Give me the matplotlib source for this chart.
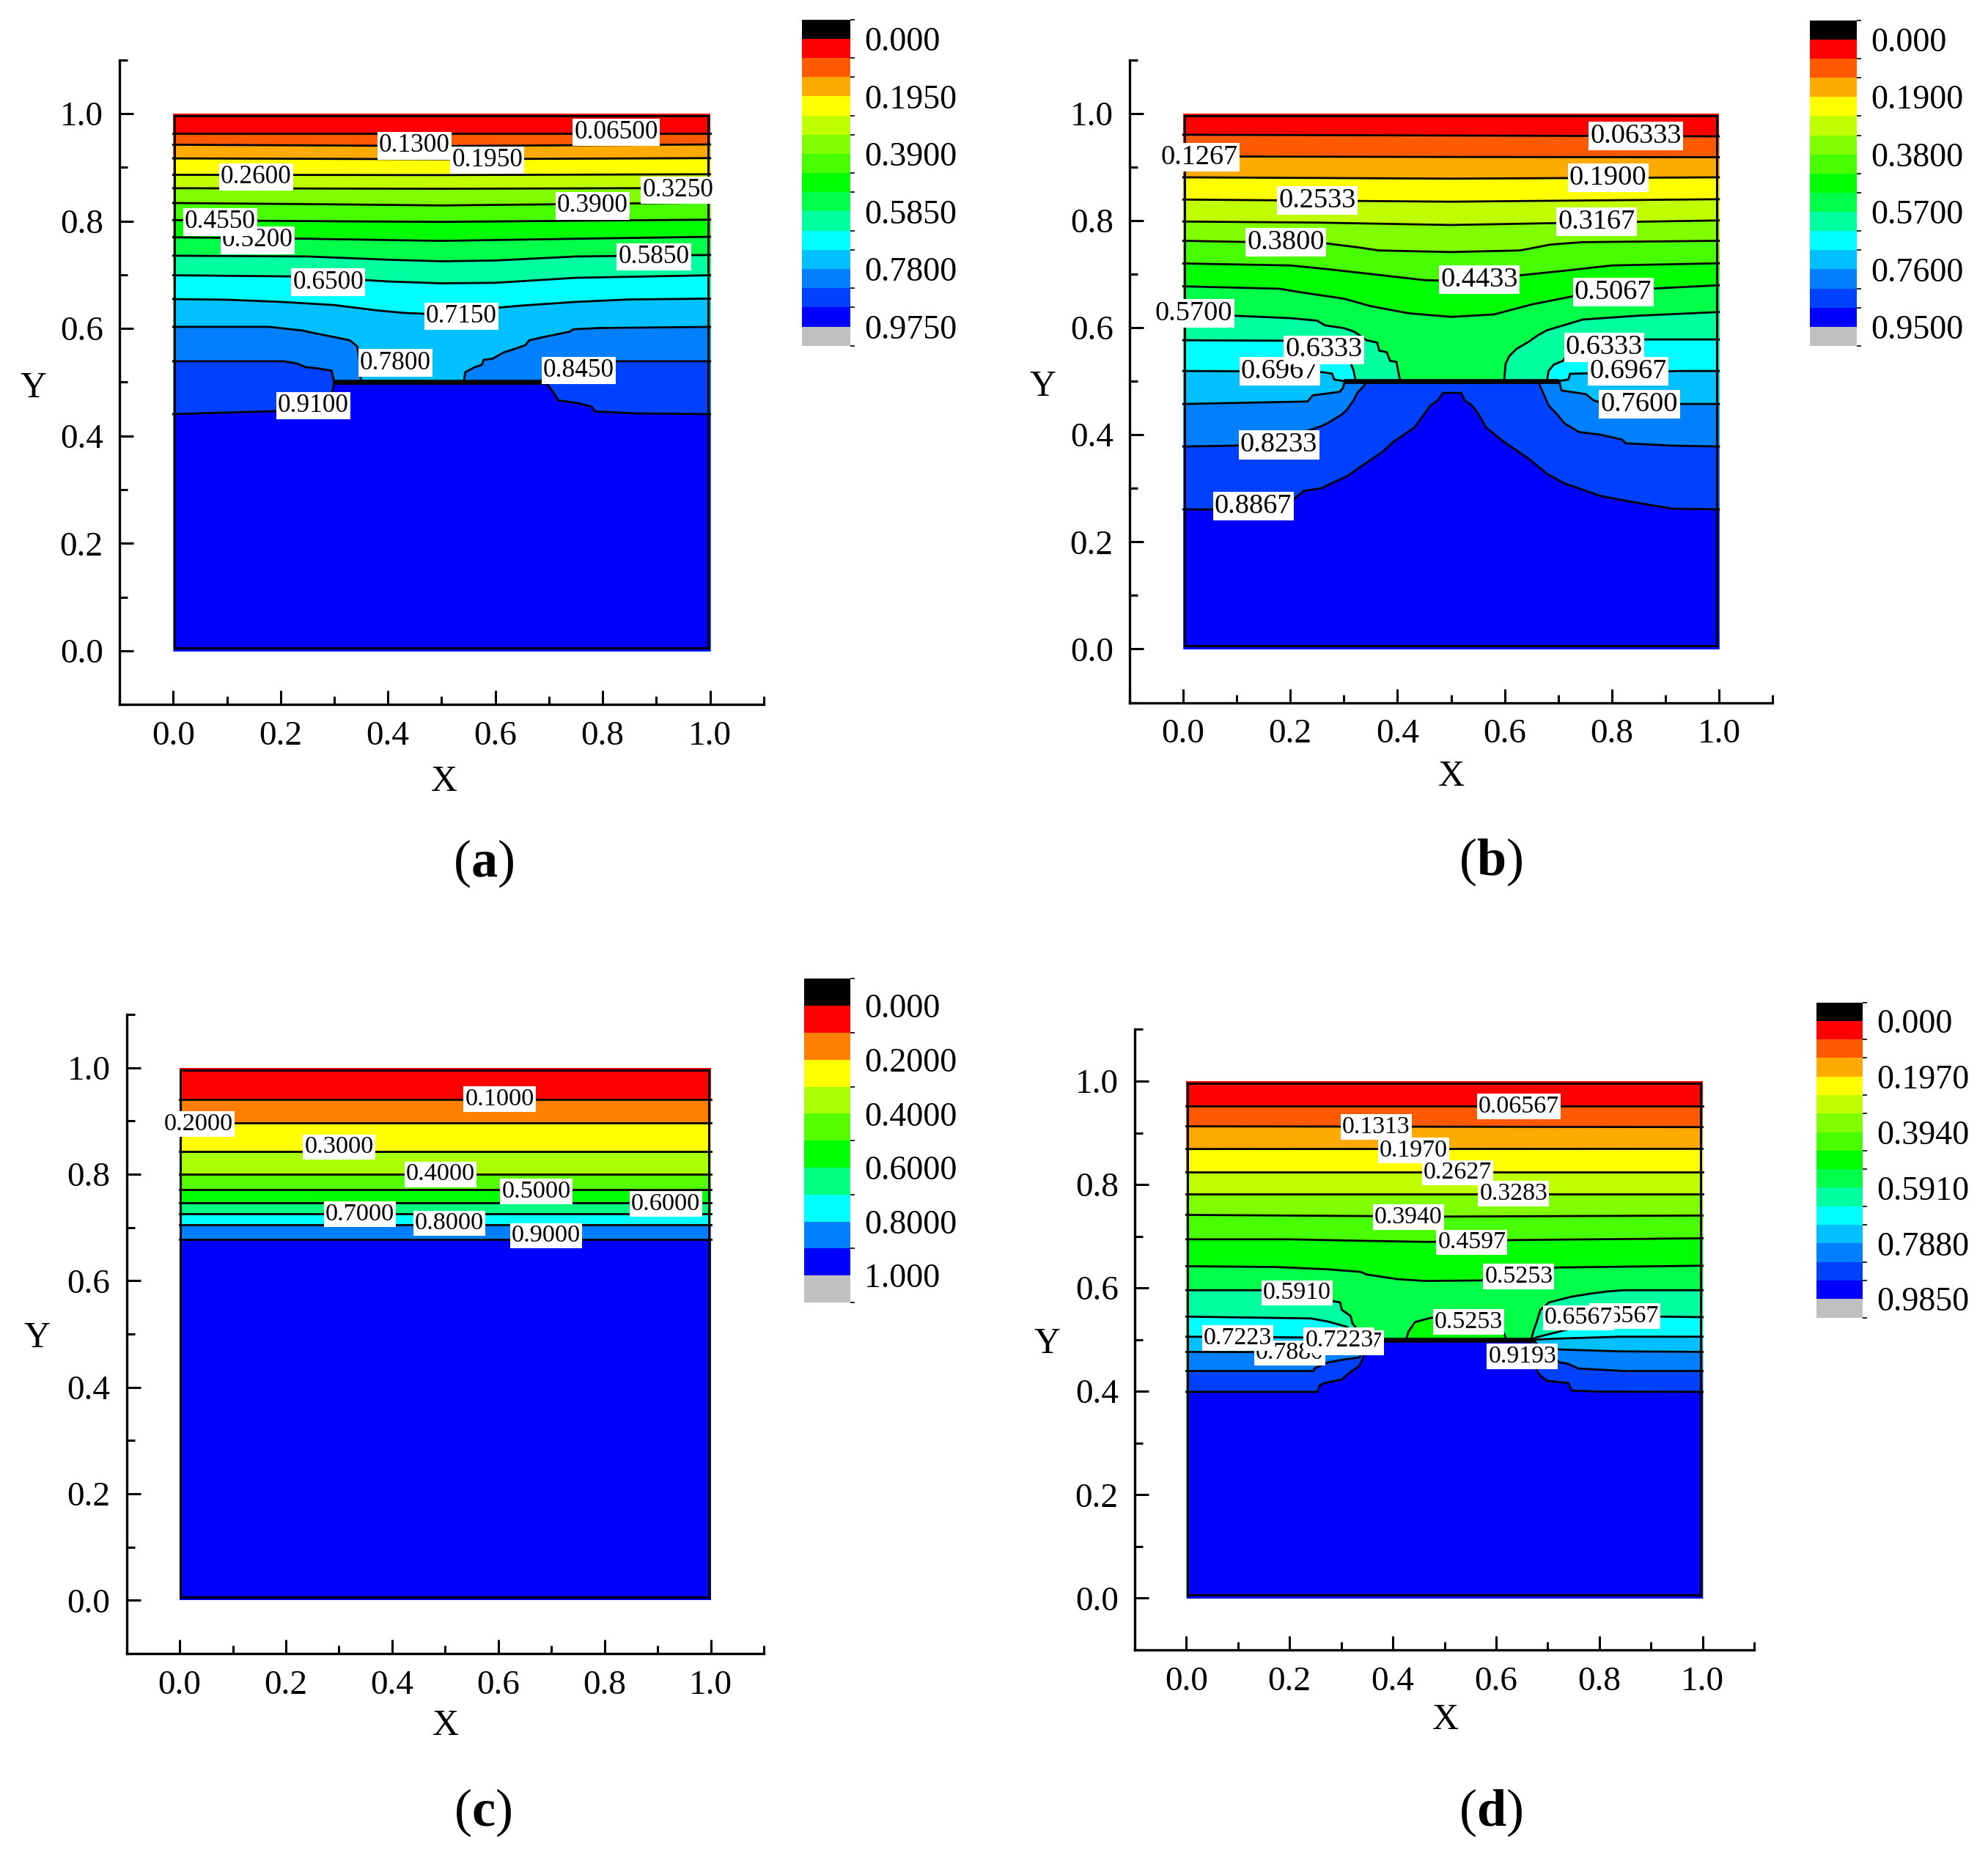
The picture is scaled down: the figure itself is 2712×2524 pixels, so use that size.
import numpy as np
import matplotlib.pyplot as plt
from matplotlib.colors import ListedColormap, BoundaryNorm
from matplotlib.cm import ScalarMappable
from matplotlib.patches import Rectangle
from matplotlib.ticker import MultipleLocator, FormatStrFormatter

plt.rcParams['font.family'] = ['Liberation Serif', 'DejaVu Serif']
plt.rcParams['mathtext.fontset'] = 'custom'
plt.rcParams['mathtext.rm'] = 'Liberation Serif'
plt.rcParams['mathtext.bf'] = 'Liberation Serif:bold'

# ---------------- colours ----------------
bands15 = ['#ff0000', '#ff5a00', '#ffaa00', '#ffff00', '#c0ff00', '#80ff00',
           '#48ff00', '#00ff00', '#00ff48', '#00ffa0', '#00ffff', '#00c0ff',
           '#0080ff', '#0040ff', '#0000ff']
bands10 = ['#ff0000', '#ff8000', '#ffff00', '#aaff00', '#55ff00', '#00ff00',
           '#00ff80', '#00ffff', '#0080ff', '#0000ff']

# ---------------- panel (a) ----------------
a_levels = [0.000, 0.065, 0.130, 0.195, 0.260, 0.325, 0.390, 0.455, 0.520,
            0.585, 0.650, 0.715, 0.780, 0.845, 0.910, 0.975]
a_cbar_labels = ['0.000', '0.1950', '0.3900', '0.5850', '0.7800', '0.9750']
a_plate = [0.30, 0.70]
a_lines = [
    [(0, 0.9635), (1, 0.9635)],
    [(0, 0.942), (0.5, 0.9395), (1, 0.9425)],
    [(0, 0.9165), (0.5, 0.915), (1, 0.917)],
    [(0, 0.886), (0.5, 0.8855), (1, 0.887)],
    [(0, 0.861), (0.5, 0.86), (1, 0.8615)],
    [(0, 0.8335), (0.3, 0.831), (0.5, 0.829), (0.7, 0.831), (1, 0.8344)],
    [(0, 0.8016), (0.3, 0.7995), (0.5, 0.7984), (0.7, 0.8), (1, 0.8025)],
    [(0, 0.7697), (0.25, 0.767), (0.5, 0.763), (0.75, 0.767), (1, 0.7706)],
    [(0, 0.7354), (0.25, 0.734), (0.4, 0.728), (0.5, 0.725), (0.6, 0.7265),
     (0.75, 0.734), (1, 0.7368)],
    [(0, 0.699), (0.25, 0.6966), (0.4, 0.6875), (0.5, 0.684), (0.6, 0.685),
     (0.75, 0.6943), (1, 0.699)],
    [(0, 0.6547), (0.1, 0.6535), (0.2, 0.6495), (0.3, 0.6436), (0.38, 0.6336),
     (0.43, 0.629), (0.5, 0.626), (0.57, 0.6357), (0.65, 0.6427),
     (0.75, 0.6495), (0.85, 0.654), (1, 0.6556)],
    [(0, 0.603), (0.179, 0.603), (0.2405, 0.5962), (0.261, 0.5917),
     (0.295, 0.585), (0.329, 0.578), (0.343, 0.5666), (0.347, 0.54),
     (0.35, 0.5), (0.541, 0.5), (0.544, 0.5186), (0.5613, 0.5278),
     (0.575, 0.5324), (0.578, 0.5415), (0.595, 0.5438), (0.615, 0.5552),
     (0.636, 0.562), (0.656, 0.5689), (0.663, 0.578), (0.683, 0.5826),
     (0.738, 0.594), (0.745, 0.5985), (0.792, 0.6008), (1, 0.603)],
    [(0, 0.539), (0.206, 0.539), (0.23, 0.535), (0.247, 0.528), (0.268, 0.526),
     (0.295, 0.5215), (0.3, 0.5), (0.686, 0.5), (0.69, 0.515), (0.705, 0.52),
     (0.75, 0.528), (0.79, 0.537), (0.824, 0.539), (1, 0.539)],
    [(0, 0.4406), (0.186, 0.446), (0.25, 0.45), (0.285, 0.46), (0.296, 0.48),
     (0.3, 0.5), (0.697, 0.5), (0.6986, 0.4933), (0.7075, 0.482),
     (0.7177, 0.466), (0.752, 0.4615), (0.779, 0.4547), (0.786, 0.4456),
     (0.86, 0.442), (1, 0.4406)],
]
a_label_text = ['0.06500', '0.5200', '0.4550', '0.1950', '0.1300', '0.2600',
                '0.3250', '0.3900', '0.5850', '0.6500', '0.7150', '0.7800',
                '0.8450', '0.9100']
a_label_xy = [(0.825, 0.965), (0.157, 0.764), (0.0875, 0.798), (0.585, 0.913),
              (0.449, 0.94), (0.154, 0.882), (0.94, 0.857), (0.781, 0.828),
              (0.895, 0.733), (0.289, 0.686), (0.5365, 0.623), (0.414, 0.536),
              (0.755, 0.522), (0.2606, 0.4565)]

# ---------------- panel (b) ----------------
b_levels = [0.000, 0.06333, 0.1267, 0.1900, 0.2533, 0.3167, 0.3800, 0.4433,
            0.5067, 0.5700, 0.6333, 0.6967, 0.7600, 0.8233, 0.8867, 0.9500]
b_cbar_labels = ['0.000', '0.1900', '0.3800', '0.5700', '0.7600', '0.9500']
b_plate = [0.30, 0.70]
b_lines = [
    [(0, 0.96), (1, 0.957)],
    [(0, 0.9195), (0.5, 0.9185), (1, 0.918)],
    [(0, 0.8805), (0.5, 0.878), (1, 0.8805)],
    [(0, 0.839), (0.5, 0.835), (1, 0.8396)],
    [(0, 0.798), (0.25, 0.796), (0.5, 0.7915), (0.75, 0.796), (1, 0.8)],
    [(0, 0.762), (0.268, 0.757), (0.325, 0.75), (0.365, 0.744), (0.5, 0.741),
     (0.629, 0.744), (0.686, 0.755), (0.746, 0.7595), (1, 0.762)],
    [(0, 0.7197), (0.2, 0.716), (0.27, 0.709), (0.35, 0.7), (0.45, 0.6886),
     (0.55, 0.686), (0.63, 0.6977), (0.72, 0.707), (0.8, 0.716), (1, 0.72)],
    [(0, 0.677), (0.18, 0.6725), (0.22, 0.6657), (0.3, 0.654), (0.35, 0.64),
     (0.42, 0.6268), (0.5, 0.62), (0.58, 0.6245), (0.65, 0.643),
     (0.73, 0.659), (0.8, 0.669), (1, 0.679)],
    [(0, 0.622), (0.098, 0.622), (0.2, 0.6176), (0.25, 0.613), (0.265, 0.604),
     (0.3, 0.599), (0.32, 0.592), (0.342, 0.5765), (0.362, 0.572),
     (0.366, 0.557), (0.38, 0.554), (0.386, 0.538), (0.398, 0.536),
     (0.405, 0.5), (0.599, 0.5), (0.602, 0.533), (0.609, 0.547),
     (0.622, 0.56), (0.6455, 0.574), (0.662, 0.5855), (0.679, 0.595),
     (0.746, 0.615), (0.846, 0.622), (1, 0.629)],
    [(0, 0.5764), (0.185, 0.5755), (0.28, 0.572), (0.3, 0.56), (0.31, 0.54),
     (0.318, 0.52), (0.322, 0.5), (0.679, 0.5), (0.682, 0.519),
     (0.692, 0.531), (0.709, 0.538), (0.72, 0.556), (0.75, 0.574),
     (0.865, 0.5778), (1, 0.5778)],
    [(0, 0.519), (0.18, 0.518), (0.258, 0.517), (0.278, 0.514), (0.282, 0.503),
     (0.3, 0.5), (0.7, 0.5), (0.719, 0.503), (0.722, 0.5137), (0.756, 0.5146),
     (0.93, 0.519), (1, 0.519)],
    [(0, 0.4574), (0.232, 0.462), (0.242, 0.4735), (0.292, 0.48),
     (0.298, 0.487), (0.302, 0.5), (0.702, 0.5), (0.706, 0.4826),
     (0.752, 0.4757), (0.766, 0.464), (0.78, 0.46), (0.929, 0.4574),
     (1, 0.4574)],
    [(0, 0.378), (0.098, 0.3796), (0.18, 0.39), (0.258, 0.416), (0.272, 0.423),
     (0.295, 0.437), (0.305, 0.446), (0.318, 0.464), (0.325, 0.478),
     (0.338, 0.492), (0.342, 0.5), (0.662, 0.5), (0.672, 0.478),
     (0.682, 0.455), (0.699, 0.437), (0.712, 0.421), (0.739, 0.405),
     (0.779, 0.4), (0.819, 0.391), (0.826, 0.384), (0.9125, 0.3796),
     (1, 0.378)],
    [(0, 0.2606), (0.051, 0.2606), (0.208, 0.281), (0.225, 0.295), (0.258, 0.3),
     (0.285, 0.313), (0.305, 0.322), (0.325, 0.336), (0.352, 0.3545),
     (0.372, 0.368), (0.392, 0.3865), (0.412, 0.4), (0.432, 0.414),
     (0.445, 0.432), (0.462, 0.455), (0.475, 0.464), (0.485, 0.478),
     (0.519, 0.478), (0.525, 0.464), (0.539, 0.455), (0.552, 0.437),
     (0.565, 0.414), (0.582, 0.4), (0.599, 0.3865), (0.619, 0.373),
     (0.646, 0.3545), (0.679, 0.327), (0.712, 0.309), (0.779, 0.2857),
     (0.826, 0.2767), (0.879, 0.2675), (0.9125, 0.262), (1, 0.2606)],
]
b_label_text = ['0.06333', '0.1267', '0.1900', '0.2533', '0.3167', '0.3800',
                '0.4433', '0.5067', '0.5700', '0.6967', '0.6333', '0.6333',
                '0.6967', '0.7600', '0.8233', '0.8867']
b_label_xy = [(0.845, 0.958), (0.030, 0.918), (0.793, 0.880), (0.25, 0.837),
              (0.772, 0.797), (0.1916, 0.759), (0.5526, 0.6896),
              (0.8026, 0.6663), (0.0199, 0.626), (0.18, 0.5185),
              (0.263, 0.5586), (0.786, 0.563), (0.8306, 0.5185),
              (0.8516, 0.457), (0.1787, 0.381), (0.1308, 0.267)]

# ---------------- panel (c) ----------------
c_levels = [0.000, 0.1, 0.2, 0.3, 0.4, 0.5, 0.6, 0.7, 0.8, 0.9, 1.000]
c_cbar_labels = ['0.000', '0.2000', '0.4000', '0.6000', '0.8000', '1.000']
c_line_y = [0.941, 0.897, 0.843, 0.7997, 0.7708, 0.7469, 0.7263, 0.7047, 0.678]
c_lines = [[(0, y), (1, y)] for y in c_line_y]
c_label_text = ['0.1000', '0.2000', '0.3000', '0.4000', '0.5000', '0.6000',
                '0.7000', '0.8000', '0.9000']
c_label_xy = [(0.6025, 0.941), (0.0355, 0.8946), (0.3003, 0.851),
              (0.4916, 0.7997), (0.6715, 0.7675), (0.9155, 0.7446),
              (0.3399, 0.7249), (0.5077, 0.708), (0.6898, 0.6846)]

# ---------------- panel (d) ----------------
d_levels = [0.000, 0.06567, 0.1313, 0.1970, 0.2627, 0.3283, 0.3940, 0.4597,
            0.5253, 0.5910, 0.6567, 0.7223, 0.7880, 0.8537, 0.9193, 0.9850]
d_cbar_labels = ['0.000', '0.1970', '0.3940', '0.5910', '0.7880', '0.9850']
d_plate = [0.342, 0.672]
d_lines = [
    [(0, 0.952), (1, 0.952)],
    [(0, 0.9125), (1, 0.911)],
    [(0, 0.8686), (1, 0.869)],
    [(0, 0.824), (1, 0.824)],
    [(0, 0.781), (1, 0.781)],
    [(0, 0.7413), (0.5, 0.738), (1, 0.74)],
    [(0, 0.694), (0.2, 0.694), (0.35, 0.691), (0.47, 0.689), (0.625, 0.6925),
     (1, 0.696)],
    [(0, 0.642), (0.173, 0.6405), (0.274, 0.636), (0.338, 0.631),
     (0.349, 0.626), (0.409, 0.617), (0.463, 0.6135), (0.571, 0.6145),
     (0.65, 0.625), (0.716, 0.6395), (1, 0.643)],
    [(0, 0.5956), (0.143, 0.5956), (0.2846, 0.5743), (0.298, 0.572),
     (0.301, 0.5577), (0.318, 0.546), (0.3216, 0.5317), (0.3385, 0.5104),
     (0.342, 0.5), (0.668, 0.5), (0.672, 0.515), (0.679, 0.535),
     (0.686, 0.5577), (0.7026, 0.572), (0.746, 0.583), (0.78, 0.5885),
     (0.814, 0.593), (0.848, 0.5956), (1, 0.5956)],
    [(0, 0.5445), (0.241, 0.541), (0.2745, 0.535), (0.31, 0.525),
     (0.335, 0.51), (0.345, 0.5), (0.668, 0.5), (0.68, 0.505), (0.72, 0.515),
     (0.8, 0.535), (0.922, 0.5445), (1, 0.5435)],
    [(0, 0.5057), (0.17, 0.5047), (0.25, 0.504), (0.345, 0.5), (0.672, 0.5),
     (0.72, 0.502), (0.84, 0.5057), (1, 0.5057)],
    [(0, 0.4763), (0.13, 0.476), (0.22, 0.474), (0.3, 0.474), (0.335, 0.478),
     (0.34, 0.49), (0.345, 0.5), (0.672, 0.5), (0.68, 0.49), (0.723, 0.481),
     (0.841, 0.4773), (1, 0.4763)],
    [(0, 0.4394), (0.247, 0.4394), (0.2475, 0.444), (0.274, 0.456),
     (0.308, 0.462), (0.335, 0.4655), (0.342, 0.48), (0.346, 0.5),
     (0.672, 0.5), (0.69, 0.48), (0.723, 0.456), (0.7385, 0.4537),
     (0.7595, 0.4442), (0.848, 0.4394), (1, 0.4394)],
    [(0, 0.399), (0.254, 0.399), (0.258, 0.4115), (0.268, 0.416),
     (0.301, 0.423), (0.315, 0.435), (0.322, 0.44), (0.335, 0.449),
     (0.342, 0.4635), (0.345, 0.4777), (0.3485, 0.4915), (0.35, 0.5),
     (0.665, 0.5), (0.672, 0.46), (0.679, 0.44), (0.686, 0.43),
     (0.699, 0.4205), (0.74, 0.4158), (0.7465, 0.4016), (0.8, 0.3995),
     (1, 0.399)],
]
# small closed 0.5253 contour sitting on the plate
d_pocket = [(0.426, 0.5), (0.43, 0.515), (0.443, 0.534), (0.473, 0.542),
            (0.52, 0.546), (0.58, 0.543), (0.61, 0.525), (0.62, 0.5)]
d_label_text = ['0.06567', '0.1313', '0.1970', '0.2627', '0.3283', '0.3940',
                '0.4597', '0.5253', '0.5910', '0.5253', '0.6567', '0.6567',
                '0.7880', '0.7223', '0.6567', '0.7223', '0.9193']
d_label_xy = [(0.644, 0.951), (0.368, 0.911), (0.4407, 0.866), (0.5254, 0.823),
              (0.634, 0.782), (0.43, 0.737), (0.553, 0.688), (0.644, 0.6225),
              (0.214, 0.590), (0.547, 0.5345), (0.849, 0.5457), (0.760, 0.542),
              (0.2, 0.474), (0.0993, 0.5033), (0.314, 0.494), (0.296, 0.499),
              (0.651, 0.4677)]

# ---------------- layout (figure fractions) ----------------
W, H = 2712, 2524
fig = plt.figure(figsize=(W / 200, H / 200), dpi=200)


def px_rect(l, t, r, b):
    return [l / W, 1 - b / H, (r - l) / W, (b - t) / H]


def draw_panel(ax_box, cb_box, levels, bands, lines, cbar_every, cbar_labels,
               label_text, label_xy, label_fs, plate=None, pocket=None,
               pocket_band=None, letter='a', cap_xy=(0, 0), xlab=(0.5, -0.12),
               ylab=(-0.135, 0.49)):
    ax = fig.add_axes(px_rect(*ax_box))
    ax.fill_between([0, 1], 0, 1, color=bands[0], lw=0, zorder=1)
    for i, pts in enumerate(lines):
        x, y = np.array(pts).T
        ax.fill_between(x, 0, y, color=bands[i + 1], lw=0, zorder=1)
    all_lines = list(lines)
    if pocket is not None:
        x, y = np.array(pocket).T
        ax.fill_between(x, 0.5, y, color=bands[pocket_band], lw=0, zorder=1)
        all_lines.append(pocket)
    for pts in all_lines:
        x, y = np.array(pts).T
        ax.plot(x, y, color='k', lw=1.0, zorder=3)
    if plate is not None:
        ax.plot(plate, [0.5, 0.5], color='k', lw=2.4, solid_capstyle='butt',
                zorder=4)
    ax.add_patch(Rectangle((0.002, 0.006), 0.994, 0.99, fill=False, ec='k',
                           lw=1.1, zorder=4))
    for k, (s, (lx, ly)) in enumerate(zip(label_text, label_xy)):
        ax.text(lx, ly, s, ha='center', va='center', fontsize=label_fs,
                zorder=10 + k,
                bbox=dict(boxstyle='square,pad=0.06', fc='white', ec='none'))

    ax.set_xlim(-0.1, 1.1)
    ax.set_ylim(-0.1, 1.1)
    for s in ['top', 'right']:
        ax.spines[s].set_visible(False)
    for s in ['left', 'bottom']:
        ax.spines[s].set_linewidth(1.2)
    for axis in [ax.xaxis, ax.yaxis]:
        axis.set_major_locator(MultipleLocator(0.2))
        axis.set_minor_locator(MultipleLocator(0.1))
        axis.set_major_formatter(FormatStrFormatter('%.1f'))
    ax.tick_params(which='both', direction='in', top=False, right=False,
                   width=1.1, labelsize=17, pad=8)
    ax.tick_params(which='major', length=7)
    ax.tick_params(which='minor', length=4)
    ax.text(xlab[0], xlab[1], 'X', transform=ax.transAxes, ha='center',
            va='center', fontsize=18)
    ax.text(ylab[0], ylab[1], 'Y', transform=ax.transAxes, ha='center',
            va='center', fontsize=18)

    # colour legend: black cell on top, grey cell at the bottom
    cells = ['black'] + bands + ['#c0c0c0']
    step = levels[1] - levels[0]
    edges = [levels[0] - step] + list(levels) + [levels[-1] + step]
    norm = BoundaryNorm(edges, len(cells))
    sm = ScalarMappable(norm=norm, cmap=ListedColormap(cells))
    cax = fig.add_axes(px_rect(*cb_box))
    cb = fig.colorbar(sm, cax=cax, boundaries=edges,
                      ticks=levels[::cbar_every])
    cb.outline.set_visible(False)
    cax.invert_yaxis()
    cax.set_yticklabels(cbar_labels)
    cax.tick_params(length=0, labelsize=16.5, pad=7)

    fig.text(cap_xy[0] / W, 1 - cap_xy[1] / H, '(' + r'$\mathbf{' + letter + '}$' + ')',
             ha='center', va='center', fontsize=26)
    return ax


draw_panel((163, 81.6, 1042, 961.3), (1094, 26.7, 1160, 471.7), a_levels,
           bands15, a_lines, 3, a_cbar_labels, a_label_text, a_label_xy, 12.7,
           plate=a_plate, letter='a', cap_xy=(660, 1178),
           xlab=(0.5034, -0.1202), ylab=(-0.1336, 0.4903))
draw_panel((1541, 81.5, 2418, 958.5), (2469, 27.7, 2533, 472), b_levels,
           bands15, b_lines, 3, b_cbar_labels, b_label_text, b_label_xy, 13.8,
           plate=b_plate, letter='b', cap_xy=(2034, 1176),
           xlab=(0.5006, -0.1157), ylab=(-0.1351, 0.4909))
draw_panel((172.6, 1384, 1042, 2256), (1097, 1335.3, 1160, 1777), c_levels,
           bands10, c_lines, 2, c_cbar_labels, c_label_text, c_label_xy, 12.4,
           letter='c', cap_xy=(659, 2473),
           xlab=(0.5008, -0.1135), ylab=(-0.1404, 0.4931))
draw_panel((1548, 1404.4, 2393, 2251), (2478, 1367.5, 2541, 1797.5), d_levels,
           bands15, d_lines, 3, d_cbar_labels, d_label_text, d_label_xy, 12.2,
           plate=d_plate, pocket=d_pocket, pocket_band=7, letter='d',
           cap_xy=(2034, 2473), xlab=(0.5018, -0.1134), ylab=(-0.142, 0.4931))

fig.savefig('out.png', dpi=200)
